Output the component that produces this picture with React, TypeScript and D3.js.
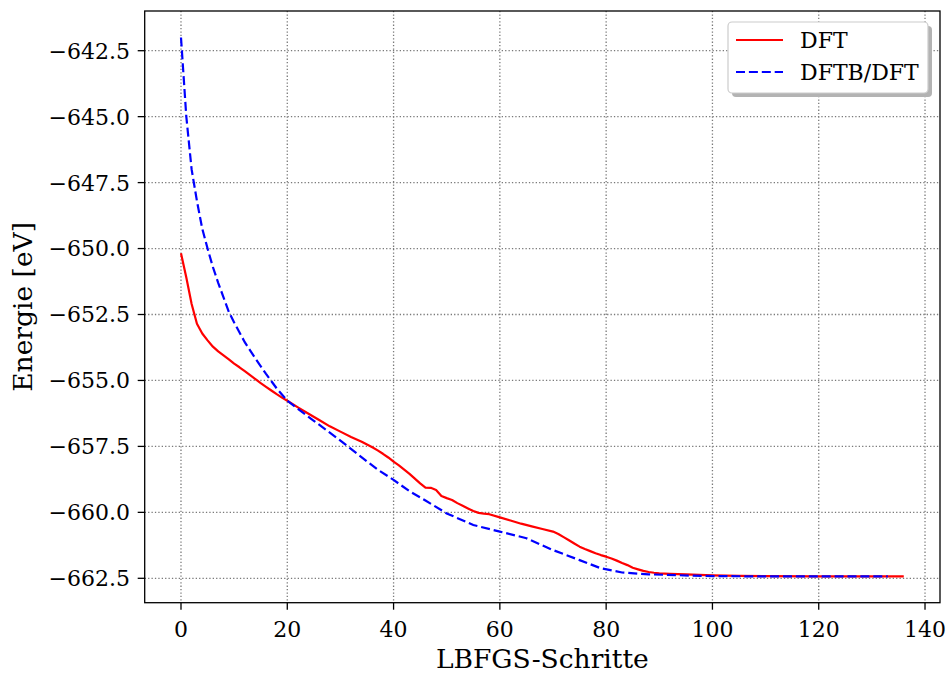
import React from "react";
import * as d3 from "d3";

const dftSteps = [0, 1, 2, 3, 4, 5, 6, 7, 8, 9, 10, 11, 12, 13, 14, 15, 16, 17, 18, 19, 20, 22, 24, 26, 28, 30, 32, 34, 36, 37, 38, 39, 40, 41, 42, 43, 44, 45, 46, 47, 48, 49, 50, 51, 52, 53, 54, 55, 56, 57, 58, 60, 62, 64, 66, 68, 70, 71, 72, 73, 74, 75, 76, 77, 78, 79, 80, 81, 82, 83, 84, 85, 86, 87, 88, 89, 90, 92, 95, 100, 105, 110, 120, 130, 136];
const dftEnergy = [-650.18, -651.1, -652.1, -652.85, -653.22, -653.48, -653.72, -653.9, -654.05, -654.2, -654.36, -654.5, -654.65, -654.8, -654.95, -655.1, -655.24, -655.38, -655.52, -655.65, -655.77, -656.02, -656.26, -656.5, -656.74, -656.94, -657.14, -657.32, -657.53, -657.65, -657.78, -657.92, -658.08, -658.22, -658.38, -658.54, -658.72, -658.9, -659.06, -659.07, -659.15, -659.38, -659.46, -659.53, -659.65, -659.75, -659.85, -659.95, -660.02, -660.05, -660.07, -660.19, -660.31, -660.43, -660.53, -660.63, -660.73, -660.82, -660.94, -661.06, -661.18, -661.3, -661.39, -661.47, -661.55, -661.62, -661.68, -661.75, -661.83, -661.92, -662.0, -662.1, -662.16, -662.22, -662.26, -662.29, -662.31, -662.33, -662.35, -662.39, -662.41, -662.42, -662.43, -662.43, -662.43];

const dftbSteps = [0, 1, 2, 3, 4, 5, 6, 7, 8, 9, 10, 12, 14, 16, 18, 20, 22, 25, 28, 30, 35, 37, 40, 43, 46, 50, 55, 60, 65, 70, 75, 79, 83, 88, 98, 110, 133];
const dftbEnergy = [-642.0, -645.0, -647.0, -648.2, -649.25, -650.0, -650.7, -651.3, -651.85, -652.4, -652.8, -653.55, -654.17, -654.75, -655.3, -655.77, -656.08, -656.53, -656.98, -657.28, -658.07, -658.38, -658.77, -659.2, -659.55, -660.04, -660.48, -660.73, -660.98, -661.43, -661.81, -662.12, -662.28, -662.35, -662.41, -662.43, -662.43];

const xTicks = [0, 20, 40, 60, 80, 100, 120, 140];
const yTicks = [-642.5, -645.0, -647.5, -650.0, -652.5, -655.0, -657.5, -660.0, -662.5];

const seriesNames = ["DFT", "DFTB/DFT"];
const xLabel = "LBFGS-Schritte";
const yLabel = "Energie [eV]";

const W = 949;
const H = 675;
const L = 144.7, R = 940, T = 11, B = 602.7;
const FONT = "'DejaVu Serif', serif";

export default function App() {
  const x = d3.scaleLinear().domain([-6.83, 142.82]).range([L, R]);
  const y = d3.scaleLinear().domain([-663.425, -640.995]).range([B, T]);

  const dftData = dftSteps.map((s, i) => [s, dftEnergy[i]] as [number, number]);
  const dftbData = dftbSteps.map((s, i) => [s, dftbEnergy[i]] as [number, number]);
  const line = d3.line<[number, number]>().x(d => x(d[0])).y(d => y(d[1]));

  const fmtY = (v: number) => (v < 0 ? "\u2212" : "") + Math.abs(v).toFixed(1);

  const lgX = 728, lgY = 22, lgW = 200, lgH = 71;

  return (
    <svg width={W} height={H} style={{ position: "absolute", left: 0, top: 0, background: "#fff" }} fontFamily={FONT}>
      <rect x={0} y={0} width={W} height={H} fill="#fff" />
      {/* grid */}
      <g stroke="#7a7a7a" strokeWidth={1.3} strokeDasharray="1.3,2.1">
        {xTicks.map(t => (
          <line key={"gx" + t} x1={x(t)} x2={x(t)} y1={T} y2={B} />
        ))}
        {yTicks.map(t => (
          <line key={"gy" + t} x1={L} x2={R} y1={y(t)} y2={y(t)} />
        ))}
      </g>
      {/* lines */}
      <path d={line(dftData) || ""} fill="none" stroke="#ff0000" strokeWidth={2.2} strokeLinejoin="round" />
      <path d={line(dftbData) || ""} fill="none" stroke="#0000ff" strokeWidth={2.2} strokeDasharray="9,3.9" />
      {/* spines */}
      <rect x={L} y={T} width={R - L} height={B - T} fill="none" stroke="#000" strokeWidth={1.3} />
      {/* ticks */}
      <g stroke="#000" strokeWidth={1.3}>
        {xTicks.map(t => (
          <line key={"tx" + t} x1={x(t)} x2={x(t)} y1={B} y2={B + 7} />
        ))}
        {yTicks.map(t => (
          <line key={"ty" + t} x1={L - 7} x2={L} y1={y(t)} y2={y(t)} />
        ))}
      </g>
      <g fontSize={22} fill="#000">
        {xTicks.map(t => (
          <text key={"lx" + t} x={x(t)} y={637} textAnchor="middle">{t}</text>
        ))}
        {yTicks.map(t => (
          <text key={"ly" + t} x={130} y={y(t)} dy="0.36em" textAnchor="end">{fmtY(t)}</text>
        ))}
      </g>
      <text x={(L + R) / 2} y={668} textAnchor="middle" fontSize={26.5}>{xLabel}</text>
      <text transform={`translate(32,${(T + B) / 2}) rotate(-90)`} textAnchor="middle" fontSize={26.5}>{yLabel}</text>
      {/* legend */}
      <rect x={lgX + 4} y={lgY + 4} width={lgW} height={lgH} rx={4} fill="#b3b3b3" />
      <rect x={lgX} y={lgY} width={lgW} height={lgH} rx={4} fill="#fff" stroke="#cccccc" strokeWidth={1.2} />
      <line x1={736} x2={783} y1={40} y2={40} stroke="#ff0000" strokeWidth={2.2} />
      <line x1={736} x2={783} y1={72} y2={72} stroke="#0000ff" strokeWidth={2.2} strokeDasharray="9,3.9" />
      <text x={800} y={48} fontSize={22}>{seriesNames[0]}</text>
      <text x={800} y={80} fontSize={22}>{seriesNames[1]}</text>
    </svg>
  );
}
